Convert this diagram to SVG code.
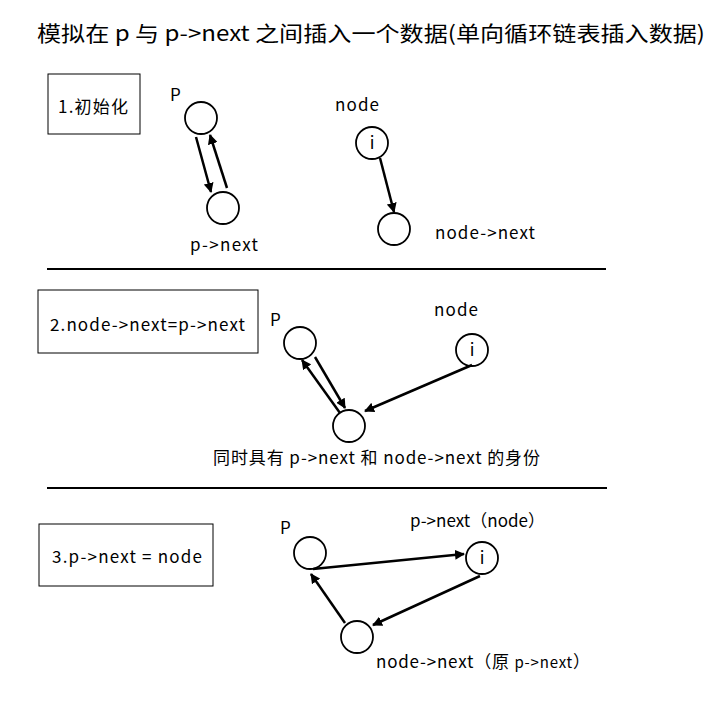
<svg xmlns="http://www.w3.org/2000/svg" width="725" height="718" viewBox="0 0 725 718">
<style>
text{font-family:"Noto Sans CJK SC","Noto Sans",sans-serif;fill:#000}
.t{font-size:17px}
.n circle{fill:#fff;stroke:#000;stroke-width:1.8}
.box{fill:#fff;stroke:#000;stroke-width:1}
.e line{stroke:#000;stroke-width:2.5;marker-end:url(#ah)}
.sep{stroke:#000;stroke-width:2}
</style>
<defs>
<marker id="ah" viewBox="0 0 10 10" refX="9" refY="5" markerWidth="4" markerHeight="4" orient="auto" markerUnits="strokeWidth">
<path d="M0,0 L10,5 L0,10 z" fill="#000"/>
</marker>
</defs>
<rect width="725" height="718" fill="#fff"/>
<text x="37" y="41" font-size="21" textLength="668" lengthAdjust="spacingAndGlyphs">模拟在 p 与  p-&gt;next  之间插入一个数据(单向循环链表插入数据)</text>

<g id="step1"><rect class="box" x="48" y="74" width="92" height="60"/><text class="t" x="58" y="113" textLength="70">1.初始化</text></g>
<g id="s1p" class="n"><text class="t" x="170" y="101">P</text><circle cx="201" cy="118" r="16"/></g>
<g id="s1pn" class="n"><circle cx="223" cy="208" r="16"/><text class="t" x="190" y="251" textLength="68">p-&gt;next</text></g>
<g id="s1node" class="n"><text class="t" x="335" y="111" textLength="44">node</text><circle cx="372" cy="143" r="16"/><text class="t" x="372" y="149" text-anchor="middle">i</text></g>
<g id="s1nn" class="n"><circle cx="394" cy="229" r="16"/><text class="t" x="435" y="239" textLength="100">node-&gt;next</text></g>
<line class="sep" x1="47" y1="269" x2="606" y2="269"/>

<g id="step2"><rect class="box" x="38" y="290" width="220" height="63"/><text class="t" x="50" y="331" textLength="195">2.node-&gt;next=p-&gt;next</text></g>
<g id="s2p" class="n"><text class="t" x="270" y="326">P</text><circle cx="300" cy="343" r="16"/></g>
<g id="s2pn" class="n"><circle cx="349" cy="426" r="16"/><text class="t" x="213" y="464" textLength="327">同时具有 p-&gt;next 和 node-&gt;next 的身份</text></g>
<g id="s2node" class="n"><text class="t" x="434" y="316" textLength="44">node</text><circle cx="472" cy="350" r="16"/><text class="t" x="472" y="356" text-anchor="middle">i</text></g>
<line class="sep" x1="47" y1="488" x2="607" y2="488"/>

<g id="step3"><rect class="box" x="39" y="524" width="174" height="62"/><text class="t" x="52" y="563" textLength="150">3.p-&gt;next = node</text></g>
<g id="s3p" class="n"><text class="t" x="280" y="534">P</text><circle cx="310" cy="553" r="16"/></g>
<g id="s3node" class="n"><text class="t" x="410" y="527" textLength="135">p-&gt;next（node）</text><circle cx="482" cy="558" r="16"/><text class="t" x="482" y="564" text-anchor="middle">i</text></g>
<g id="s3nn" class="n"><circle cx="357" cy="637" r="16"/><text class="t" x="376" y="668" textLength="214">node-&gt;next（原 <tspan font-size="15">p-&gt;next</tspan>）</text></g>

<g id="connectors" class="e">
<line x1="196" y1="137" x2="211" y2="192"/>
<line x1="227" y1="188" x2="210" y2="135"/>
<line x1="380" y1="158" x2="394" y2="212"/>
<line x1="315" y1="357" x2="345" y2="408"/>
<line x1="340" y1="413" x2="302" y2="360"/>
<line x1="472" y1="365" x2="365" y2="411"/>
<line x1="313" y1="569" x2="464" y2="554"/>
<line x1="480" y1="576" x2="373" y2="625"/>
<line x1="345" y1="623" x2="311" y2="574"/>
</g>
</svg>
